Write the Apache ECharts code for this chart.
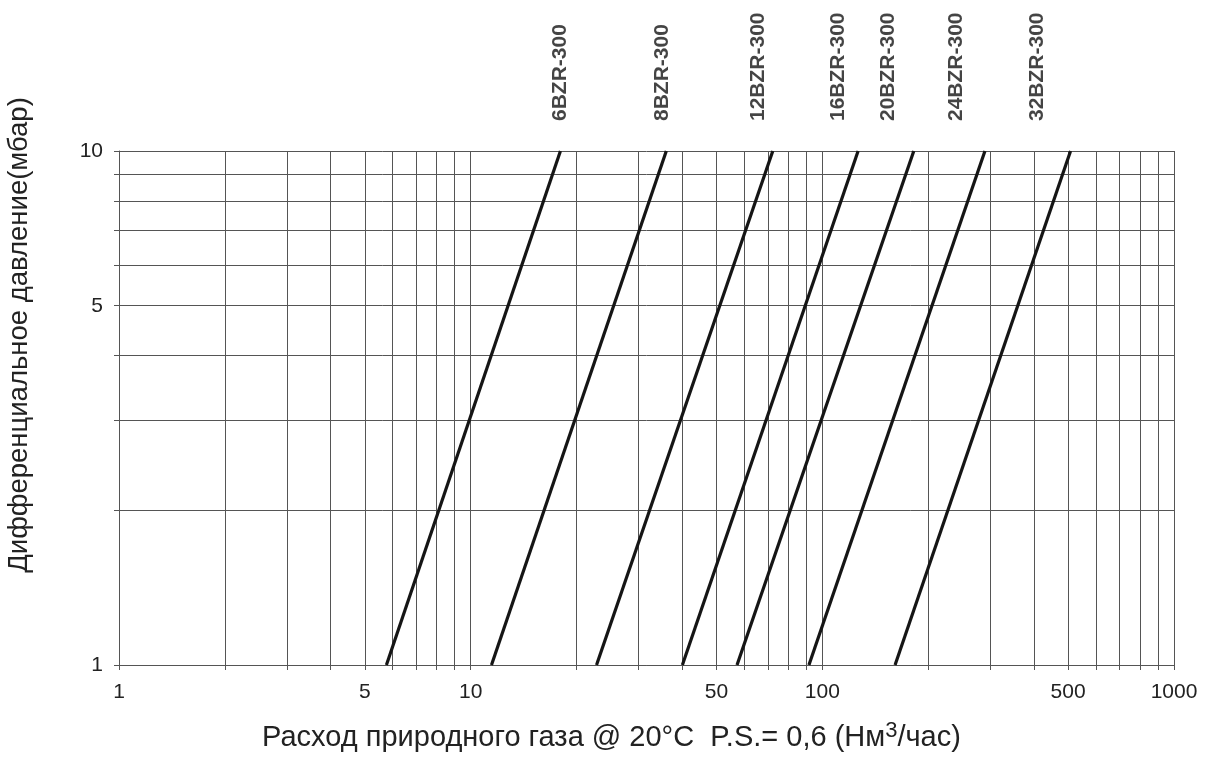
<!DOCTYPE html>
<html><head><meta charset="utf-8">
<script src="https://cdn.jsdelivr.net/npm/echarts@6/dist/echarts.min.js"></script>
<style>html,body{margin:0;padding:0;background:#fff}#c{width:1208px;height:769px}</style>
</head><body><div id="c"></div>
<script>
const models = ['6BZR-300','8BZR-300','12BZR-300','16BZR-300','20BZR-300','24BZR-300','32BZR-300'];
const flowAt1mbar = [5.76, 11.46, 22.8, 40.0, 57.2, 91.6, 161];
const flowAt10mbar = [18.0, 36.0, 72.3, 126.4, 182, 290, 508];
const labelFlow = [18.0, 35.0, 65.5, 110.6, 153.5, 241, 407];
const pressureLow = 1;
const pressureHigh = 10;
const xGridValues = [1,2,3,4,5,6,7,8,9,10,20,30,40,50,60,70,80,90,100,200,300,400,500,600,700,800,900,1000];
const yGridValues = [1,2,3,4,5,6,7,8,9,10];
const xTickLabels = [1,5,10,50,100,500,1000];
const yTickLabels = [1,5,10];

const FONT = "'Liberation Sans', Arial, sans-serif";
const chart = echarts.init(document.getElementById('c'), null, {renderer: 'canvas'});

const series = models.map((m, i) => ({
  type: 'line',
  name: m,
  data: [[flowAt1mbar[i], pressureLow], [flowAt10mbar[i], pressureHigh]],
  symbol: 'none',
  silent: true,
  lineStyle: {color: '#151515', width: 3.2},
  z: 5
}));
series.push({
  type: 'scatter',
  symbolSize: 0,
  silent: true,
  data: labelFlow.map((v, i) => ({value: [v, pressureHigh], name: models[i]})),
  label: {
    show: true,
    formatter: p => p.name,
    position: 'top',
    distance: 30,
    rotate: 90,
    align: 'left',
    verticalAlign: 'middle',
    fontFamily: FONT,
    fontWeight: 'bold',
    fontSize: 21,
    color: '#151515'
  }
});

chart.setOption({
  animation: false,
  backgroundColor: '#fff',
  grid: {left: 119, right: 34, top: 151, bottom: 104, containLabel: false, outerBoundsMode: 'none'},
  xAxis: {
    type: 'log', logBase: 10, min: 1, max: 1000,
    name: 'Расход природного газа @ 20°C  P.S.= 0,6 (Нм{sup|3}/час)',
    nameLocation: 'middle', nameGap: 55,
    nameTextStyle: {fontFamily: FONT, fontSize: 29, color: '#222', padding: [0, 70, 0, 0],
      rich: {sup: {fontFamily: FONT, fontSize: 22, color: '#222', verticalAlign: 'top', padding: [0, 0, 14, 0]}}},
    axisLine: {show: true, lineStyle: {color: '#555', width: 1}},
    axisTick: {show: true, customValues: xGridValues, length: 5, inside: false, lineStyle: {color: '#555'}},
    axisLabel: {customValues: xTickLabels, formatter: v => String(v), fontFamily: FONT, fontSize: 21, color: '#222', margin: 17},
    splitLine: {show: true, lineStyle: {color: '#555', width: 1}},
    minorTick: {show: false}, minorSplitLine: {show: false}
  },
  yAxis: {
    type: 'log', logBase: 10, min: 1, max: 10,
    name: 'Дифференциальное давление(мбар)',
    nameLocation: 'middle', nameGap: 86,
    nameTextStyle: {fontFamily: FONT, fontSize: 27.5, color: '#222', padding: [0, 0, 0, 146]},
    axisLine: {show: true, lineStyle: {color: '#555', width: 1}},
    axisTick: {show: true, customValues: yGridValues, length: 5, inside: false, lineStyle: {color: '#555'}},
    axisLabel: {customValues: yTickLabels, formatter: v => String(v), fontFamily: FONT, fontSize: 21, color: '#222', margin: 16},
    splitLine: {show: true, lineStyle: {color: '#555', width: 1}}
  },
  series: series
});
</script></body></html>
